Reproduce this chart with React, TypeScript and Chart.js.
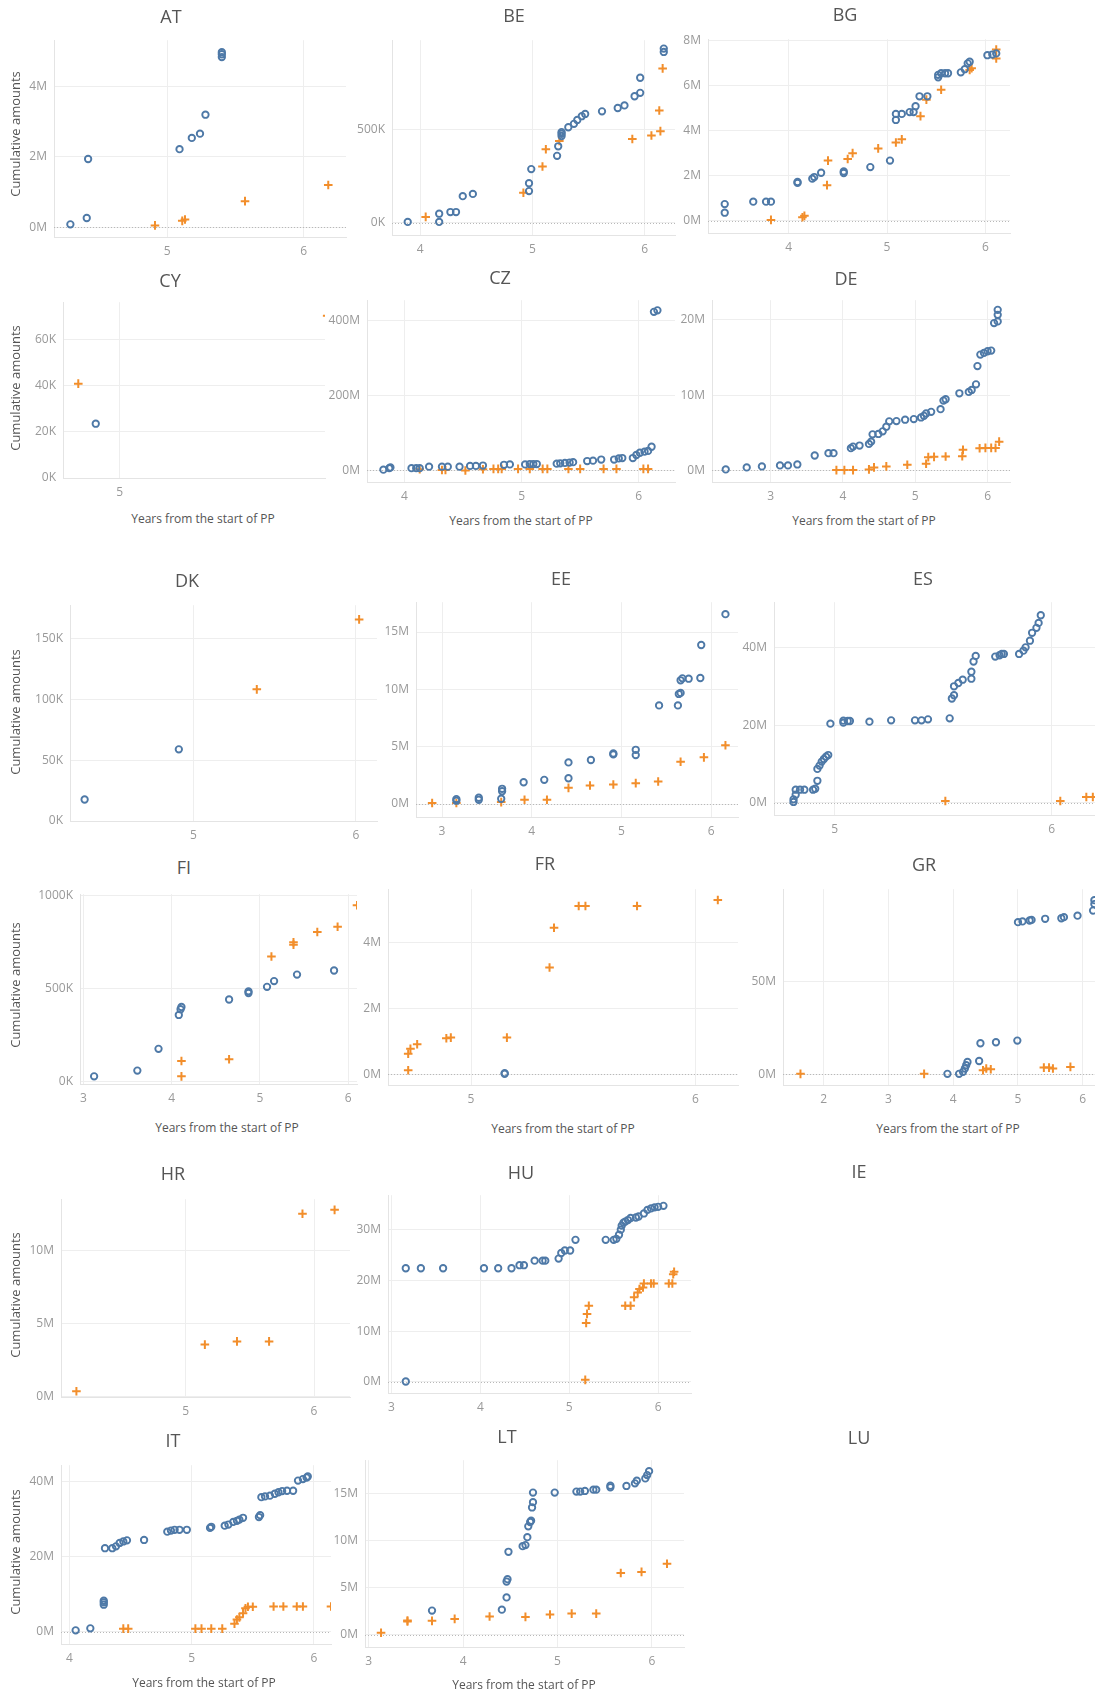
import React, { useEffect, useRef } from "react";
import { Chart, registerables } from "chart.js";
Chart.register(...registerables);

type P = [number, number][];

// ---------- DATA (x = years from start of PP, y = cumulative amount in the panel's unit) ----------
const AT_circles: P = [[4.29,0.08],[4.41,0.26],[4.42,1.94],[5.09,2.22],[5.18,2.54],[5.24,2.66],[5.28,3.2],[5.40,4.84],[5.40,4.92],[5.40,4.98]];
const AT_crosses: P = [[4.91,0.05],[5.11,0.18],[5.13,0.22],[5.57,0.74],[6.18,1.2]];
const AT_xTicks = [5, 6];
const AT_yTicks = [0, 2, 4];

const BE_circles: P = [[3.89,5],[4.17,49],[4.17,5],[4.27,58],[4.32,58],[4.38,143],[4.47,155],[4.97,170],[4.97,212],[4.99,288],[5.22,359],[5.23,410],[5.26,465],[5.26,477],[5.26,486],[5.32,512],[5.37,530],[5.40,551],[5.44,571],[5.47,583],[5.62,597],[5.76,615],[5.82,629],[5.91,678],[5.96,696],[5.96,777],[6.17,915],[6.17,933]];
const BE_crosses: P = [[4.05,32],[4.92,161],[5.09,302],[5.12,394],[5.24,438],[5.89,449],[6.06,468],[6.14,491],[6.13,602],[6.16,827]];
const BE_xTicks = [4, 5, 6];
const BE_yTicks = [0, 500];

const BG_circles: P = [[3.35,0.74],[3.35,0.36],[3.64,0.85],[3.77,0.85],[3.82,0.85],[4.09,1.72],[4.09,1.68],[4.24,1.87],[4.26,1.94],[4.33,2.13],[4.56,2.12],[4.56,2.19],[4.83,2.38],[5.03,2.67],[5.09,4.47],[5.09,4.74],[5.15,4.74],[5.23,4.82],[5.27,4.82],[5.29,5.08],[5.33,5.52],[5.41,5.52],[5.52,6.36],[5.52,6.47],[5.55,6.54],[5.59,6.54],[5.62,6.54],[5.75,6.58],[5.79,6.72],[5.82,6.98],[5.84,7.05],[6.02,7.34],[6.07,7.37],[6.11,7.42]];
const BG_crosses: P = [[3.82,0.04],[4.14,0.16],[4.16,0.22],[4.39,1.58],[4.40,2.67],[4.60,2.74],[4.65,3.0],[4.91,3.21],[5.09,3.47],[5.15,3.61],[5.34,4.64],[5.40,5.37],[5.55,5.81],[5.84,6.69],[5.86,6.76],[6.11,7.59],[6.11,7.2]];
const BG_xTicks = [4, 5, 6];
const BG_yTicks = [0, 2, 4, 6, 8];

const CY_circles: P = [[4.89,23.6]];
const CY_crosses: P = [[4.81,41],[5.95,70.5]];
const CY_xTicks = [5];
const CY_yTicks = [0, 20, 40, 60];

const CZ_circles: P = [[3.82,2],[3.87,6],[3.88,8],[4.06,6],[4.10,6],[4.13,6],[4.21,10],[4.32,10],[4.37,10],[4.47,10],[4.56,12],[4.61,12],[4.67,13],[4.85,15],[4.90,16],[5.03,16],[5.07,17],[5.10,17],[5.13,17],[5.30,18],[5.33,19],[5.37,20],[5.41,21],[5.44,22],[5.56,25],[5.61,26],[5.68,29],[5.79,29],[5.83,32],[5.86,33],[5.95,33],[5.98,41],[6.01,47],[6.05,50],[6.08,52],[6.11,63],[6.13,422],[6.16,426]];
const CZ_crosses: P = [[4.13,3],[4.32,1],[4.35,1],[4.52,0],[4.67,3],[4.76,4],[4.80,4],[4.83,4],[4.97,4],[5.07,4],[5.18,4],[5.22,4],[5.40,4],[5.50,4],[5.70,4],[5.81,4],[6.04,4],[6.08,4]];
const CZ_xTicks = [4, 5, 6];
const CZ_yTicks = [0, 200, 400];

const DE_circles: P = [[2.38,0.13],[2.67,0.4],[2.88,0.53],[3.13,0.66],[3.24,0.66],[3.37,0.79],[3.61,1.98],[3.80,2.29],[3.87,2.29],[4.11,2.95],[4.14,3.16],[4.23,3.30],[4.36,3.52],[4.39,3.82],[4.41,4.79],[4.49,4.84],[4.55,5.19],[4.60,5.80],[4.64,6.51],[4.74,6.55],[4.86,6.73],[4.98,6.81],[5.08,7.03],[5.12,7.25],[5.15,7.56],[5.22,7.78],[5.35,8.13],[5.39,9.27],[5.42,9.45],[5.61,10.24],[5.74,10.42],[5.78,10.68],[5.84,11.43],[5.86,13.85],[5.90,15.38],[5.95,15.60],[6.00,15.82],[6.05,15.91],[6.09,19.56],[6.14,19.78],[6.14,20.66],[6.14,21.32]];
const DE_crosses: P = [[3.91,0.04],[4.02,0.04],[4.14,0.04],[4.36,0.13],[4.43,0.4],[4.60,0.53],[4.89,0.75],[5.15,0.88],[5.18,1.76],[5.26,1.80],[5.42,1.85],[5.65,1.89],[5.66,2.73],[5.89,2.95],[5.97,2.99],[6.05,2.99],[6.11,2.99],[6.16,3.82]];
const DE_xTicks = [3, 4, 5, 6];
const DE_yTicks = [0, 10, 20];

const DK_circles: P = [[4.33,17.7],[4.91,59]];
const DK_crosses: P = [[5.39,108.4],[6.02,166]];
const DK_xTicks = [5, 6];
const DK_yTicks = [0, 50, 100, 150];

const EE_circles: P = [[3.16,0.29],[3.16,0.43],[3.41,0.37],[3.41,0.55],[3.66,0.46],[3.67,1.12],[3.67,1.33],[3.91,1.90],[4.14,2.11],[4.41,2.25],[4.41,3.63],[4.66,3.84],[4.91,4.33],[4.91,4.41],[5.16,4.27],[5.16,4.73],[5.42,8.60],[5.63,8.60],[5.64,9.60],[5.66,9.69],[5.66,10.79],[5.68,10.96],[5.75,10.93],[5.88,10.99],[5.89,13.87],[6.16,16.56]];
const EE_crosses: P = [[2.89,0.09],[3.16,0.09],[3.66,0.17],[3.92,0.37],[4.17,0.37],[4.41,1.41],[4.65,1.62],[4.91,1.70],[5.16,1.82],[5.41,1.96],[5.66,3.69],[5.92,4.07],[6.16,5.13]];
const EE_xTicks = [3, 4, 5, 6];
const EE_yTicks = [0, 5, 10, 15];

const ES_circles: P = [[4.81,0.25],[4.81,0.93],[4.82,2.12],[4.82,3.40],[4.84,3.40],[4.86,3.40],[4.90,3.40],[4.91,3.65],[4.92,5.69],[4.92,8.75],[4.93,9.60],[4.94,10.62],[4.95,11.30],[4.96,11.89],[4.97,12.31],[4.98,20.38],[5.04,20.64],[5.04,21.15],[5.06,21.06],[5.07,21.06],[5.16,20.89],[5.26,21.23],[5.37,21.23],[5.40,21.23],[5.43,21.49],[5.53,21.74],[5.54,26.84],[5.55,27.69],[5.55,29.98],[5.57,30.83],[5.59,31.68],[5.63,31.93],[5.63,33.72],[5.64,36.35],[5.65,37.79],[5.74,37.62],[5.76,37.96],[5.77,38.30],[5.78,38.30],[5.85,38.30],[5.87,39.15],[5.88,40.00],[5.90,41.70],[5.91,43.74],[5.93,45.01],[5.94,46.28],[5.95,48.24]];
const ES_crosses: P = [[5.51,0.51],[6.04,0.51],[6.16,1.53],[6.19,1.53]];
const ES_xTicks = [5, 6];
const ES_yTicks = [0, 20, 40];

const FI_circles: P = [[3.12,26],[3.61,57],[3.85,174],[4.08,356],[4.10,387],[4.11,399],[4.65,439],[4.87,474],[4.87,483],[5.08,507],[5.16,538],[5.42,573],[5.84,595]];
const FI_crosses: P = [[4.11,109],[4.11,26],[4.65,118],[5.13,670],[5.38,734],[5.38,747],[5.65,802],[5.88,830],[6.10,946]];
const FI_xTicks = [3, 4, 5, 6];
const FI_yTicks = [0, 500, 1000];

const FR_circles: P = [[5.15,0.02],[5.15,0.04]];
const FR_crosses: P = [[4.72,0.13],[4.72,0.63],[4.73,0.78],[4.76,0.92],[4.89,1.10],[4.91,1.12],[5.16,1.12],[5.35,3.25],[5.37,4.46],[5.48,5.12],[5.51,5.12],[5.74,5.12],[6.10,5.30]];
const FR_xTicks = [5, 6];
const FR_yTicks = [0, 2, 4];

const GR_circles: P = [[3.91,0.35],[4.09,0.35],[4.15,1.41],[4.18,3.18],[4.20,4.95],[4.22,6.71],[4.40,7.24],[4.42,16.78],[4.66,17.31],[4.99,18.2],[5.00,81.8],[5.07,82.2],[5.18,82.7],[5.21,83.0],[5.42,83.6],[5.67,83.9],[5.71,84.5],[5.92,85.3],[6.16,88.0],[6.18,91.5],[6.18,93.6]];
const GR_crosses: P = [[1.64,0.35],[3.55,0.35],[4.46,2.3],[4.51,3.2],[4.58,2.8],[5.40,3.7],[5.48,3.7],[5.54,3.2],[5.81,4.06]];
const GR_xTicks = [2, 3, 4, 5, 6];
const GR_yTicks = [0, 50];

const HR_circles: P = [];
const HR_crosses: P = [[4.15,0.34],[5.15,3.54],[5.40,3.76],[5.65,3.76],[5.91,12.5],[6.16,12.77]];
const HR_xTicks = [5, 6];
const HR_yTicks = [0, 5, 10];

const HU_circles: P = [[3.16,0.07],[3.16,22.4],[3.33,22.4],[3.58,22.4],[4.04,22.4],[4.20,22.4],[4.35,22.4],[4.44,23.0],[4.49,23.0],[4.61,23.9],[4.70,23.9],[4.73,23.9],[4.88,24.3],[4.91,25.4],[4.95,25.9],[5.01,25.9],[5.07,28.0],[5.41,28.0],[5.50,28.0],[5.53,28.2],[5.56,29.0],[5.58,30.0],[5.59,30.8],[5.61,31.4],[5.63,31.6],[5.66,31.9],[5.69,32.3],[5.75,32.4],[5.78,32.6],[5.84,33.2],[5.88,33.9],[5.92,34.2],[5.96,34.4],[6.00,34.5],[6.06,34.7]];
const HU_crosses: P = [[5.18,0.39],[5.19,11.6],[5.20,13.4],[5.22,15.0],[5.63,15.0],[5.69,15.0],[5.73,16.7],[5.77,17.6],[5.79,18.3],[5.83,18.6],[5.84,19.4],[5.92,19.4],[5.95,19.4],[6.12,19.4],[6.16,19.4],[6.17,21.2],[6.18,21.7]];
const HU_xTicks = [3, 4, 5, 6];
const HU_yTicks = [0, 10, 20, 30];

const IT_circles: P = [[4.05,0.44],[4.17,0.96],[4.28,7.26],[4.28,7.88],[4.28,8.31],[4.29,22.3],[4.35,22.3],[4.38,22.8],[4.41,23.7],[4.44,24.1],[4.47,24.4],[4.61,24.5],[4.80,26.7],[4.83,27.0],[4.86,27.2],[4.90,27.2],[4.96,27.2],[5.15,27.7],[5.16,28.0],[5.27,28.3],[5.30,28.6],[5.34,29.3],[5.37,29.6],[5.39,29.9],[5.42,30.4],[5.55,30.6],[5.56,31.1],[5.57,35.9],[5.60,36.1],[5.64,36.3],[5.68,36.8],[5.71,37.2],[5.74,37.5],[5.78,37.6],[5.83,37.6],[5.87,40.3],[5.91,40.7],[5.94,41.1],[5.95,41.4]];
const IT_crosses: P = [[4.44,0.88],[4.48,0.88],[5.03,0.88],[5.08,0.88],[5.16,0.88],[5.25,0.88],[5.35,2.2],[5.37,3.3],[5.39,3.9],[5.42,5.0],[5.44,6.3],[5.46,6.7],[5.50,6.7],[5.67,6.8],[5.75,6.8],[5.86,6.8],[5.91,6.8],[6.14,6.8]];
const IT_xTicks = [4, 5, 6];
const IT_yTicks = [0, 20, 40];

const LT_circles: P = [[3.67,2.56],[4.41,2.66],[4.46,3.96],[4.46,5.64],[4.47,5.89],[4.48,8.79],[4.63,9.39],[4.66,9.50],[4.68,10.34],[4.69,11.49],[4.71,11.95],[4.72,12.09],[4.73,13.49],[4.74,14.05],[4.74,15.07],[4.97,15.07],[5.20,15.17],[5.24,15.17],[5.29,15.24],[5.38,15.38],[5.41,15.38],[5.56,15.63],[5.56,15.80],[5.73,15.77],[5.82,16.05],[5.84,16.33],[5.93,16.57],[5.95,16.92],[5.97,17.34]];
const LT_crosses: P = [[3.13,0.21],[3.41,1.40],[3.41,1.51],[3.67,1.47],[3.91,1.68],[4.28,1.93],[4.66,1.89],[4.92,2.14],[5.15,2.24],[5.41,2.24],[5.67,6.55],[5.89,6.66],[6.16,7.53]];
const LT_xTicks = [3, 4, 5, 6];
const LT_yTicks = [0, 5, 10, 15];

// ---------- LAYOUT ----------
const FONT = "'Open Sans', 'DejaVu Sans', sans-serif";
const BLUE = "#4e79a7";
const ORANGE = "#f28e2b";
const YW = 46; // y-axis width
const PT = 12; // top padding
const PR = 14; // right padding
const XH = 28; // x-axis height

type Panel = {
  name: string; tx: number; ty: number;
  L?: number; R?: number; T?: number; B?: number;
  xMin?: number; xMax?: number; yMin?: number; yMax?: number;
  unit?: string; circles?: P; crosses?: P; xTicks?: number[]; yTicks?: number[];
  yLabel?: [number, number]; xTitle?: [number, number];
};

const PANELS: Panel[] = [
  { name: "AT", tx: 171, ty: 16, L: 54, R: 346, T: 38, B: 237, xMin: 4.17, xMax: 6.31, yMin: -0.28, yMax: 5.32, unit: "M", circles: AT_circles, crosses: AT_crosses, xTicks: AT_xTicks, yTicks: AT_yTicks, yLabel: [15, 134] },
  { name: "BE", tx: 514, ty: 15, L: 392, R: 675, T: 38, B: 235, xMin: 3.75, xMax: 6.27, yMin: -65, yMax: 978, unit: "K", circles: BE_circles, crosses: BE_crosses, xTicks: BE_xTicks, yTicks: BE_yTicks },
  { name: "BG", tx: 845, ty: 14, L: 708, R: 1010, T: 37, B: 233, xMin: 3.18, xMax: 6.25, yMin: -0.54, yMax: 8.05, unit: "M", circles: BG_circles, crosses: BG_crosses, xTicks: BG_xTicks, yTicks: BG_yTicks },

  { name: "CY", tx: 170, ty: 280, L: 63, R: 325, T: 300, B: 478, xMin: 4.74, xMax: 5.94, yMin: 0, yMax: 76.4, unit: "K", circles: CY_circles, crosses: CY_crosses, xTicks: CY_xTicks, yTicks: CY_yTicks, yLabel: [15, 388], xTitle: [203, 519] },
  { name: "CZ", tx: 500, ty: 277, L: 367, R: 675, T: 298, B: 482, xMin: 3.68, xMax: 6.31, yMin: -30.8, yMax: 453, unit: "M", circles: CZ_circles, crosses: CZ_crosses, xTicks: CZ_xTicks, yTicks: CZ_yTicks, xTitle: [521, 521] },
  { name: "DE", tx: 846, ty: 278, L: 712, R: 1010, T: 298, B: 482, xMin: 2.19, xMax: 6.31, yMin: -1.54, yMax: 22.6, unit: "M", circles: DE_circles, crosses: DE_crosses, xTicks: DE_xTicks, yTicks: DE_yTicks, xTitle: [864, 521] },

  { name: "DK", tx: 187, ty: 580, L: 70, R: 377, T: 603, B: 821, xMin: 4.24, xMax: 6.13, yMin: 0, yMax: 177.7, unit: "K", circles: DK_circles, crosses: DK_crosses, xTicks: DK_xTicks, yTicks: DK_yTicks, yLabel: [15, 712] },
  { name: "EE", tx: 561, ty: 578, L: 416, R: 738, T: 600, B: 817, xMin: 2.71, xMax: 6.30, yMin: -1.13, yMax: 17.6, unit: "M", circles: EE_circles, crosses: EE_crosses, xTicks: EE_xTicks, yTicks: EE_yTicks },
  { name: "ES", tx: 923, ty: 578, L: 774, R: 1095, T: 600, B: 815, xMin: 4.72, xMax: 6.20, yMin: -3.1, yMax: 51.6, unit: "M", circles: ES_circles, crosses: ES_crosses, xTicks: ES_xTicks, yTicks: ES_yTicks },

  { name: "FI", tx: 184, ty: 867, L: 80, R: 357, T: 892, B: 1084, xMin: 2.96, xMax: 6.10, yMin: -15, yMax: 1005, unit: "K", circles: FI_circles, crosses: FI_crosses, xTicks: FI_xTicks, yTicks: FI_yTicks, yLabel: [15, 985], xTitle: [227, 1128] },
  { name: "FR", tx: 545, ty: 863, L: 388, R: 738, T: 887, B: 1085, xMin: 4.63, xMax: 6.19, yMin: -0.32, yMax: 5.63, unit: "M", circles: FR_circles, crosses: FR_crosses, xTicks: FR_xTicks, yTicks: FR_yTicks, xTitle: [563, 1129] },
  { name: "GR", tx: 924, ty: 864, L: 783, R: 1095, T: 887, B: 1085, xMin: 1.37, xMax: 6.19, yMin: -5.65, yMax: 99.5, unit: "M", circles: GR_circles, crosses: GR_crosses, xTicks: GR_xTicks, yTicks: GR_yTicks, xTitle: [948, 1129] },

  { name: "HR", tx: 173, ty: 1173, L: 61, R: 350, T: 1197, B: 1397, xMin: 4.03, xMax: 6.28, yMin: -0.05, yMax: 13.5, unit: "M", circles: HR_circles, crosses: HR_crosses, xTicks: HR_xTicks, yTicks: HR_yTicks, yLabel: [15, 1295] },
  { name: "HU", tx: 521, ty: 1172, L: 388, R: 691, T: 1193, B: 1393, xMin: 2.96, xMax: 6.37, yMin: -2.2, yMax: 36.8, unit: "M", circles: HU_circles, crosses: HU_crosses, xTicks: HU_xTicks, yTicks: HU_yTicks },
  { name: "IE", tx: 859, ty: 1171 },

  { name: "IT", tx: 173, ty: 1440, L: 61, R: 331, T: 1463, B: 1644, xMin: 3.93, xMax: 6.14, yMin: -3.2, yMax: 44.4, unit: "M", circles: IT_circles, crosses: IT_crosses, xTicks: IT_xTicks, yTicks: IT_yTicks, yLabel: [15, 1552], xTitle: [204, 1683] },
  { name: "LT", tx: 507, ty: 1436, L: 365, R: 684, T: 1458, B: 1647, xMin: 2.96, xMax: 6.34, yMin: -1.3, yMax: 18.5, unit: "M", circles: LT_circles, crosses: LT_crosses, xTicks: LT_xTicks, yTicks: LT_yTicks, xTitle: [524, 1685] },
  { name: "LU", tx: 859, ty: 1437 },
];

const zeroLine = {
  id: "zeroLine",
  beforeDatasetsDraw(chart: any) {
    const y = chart.scales.y.getPixelForValue(0);
    const { left, right, top, bottom } = chart.chartArea;
    if (y < top || y > bottom - 3) return;
    const ctx = chart.ctx;
    ctx.save();
    ctx.strokeStyle = "#b8b8b8";
    ctx.lineWidth = 1;
    ctx.setLineDash([1, 2]);
    ctx.beginPath();
    ctx.moveTo(left, Math.round(y) + 0.5);
    ctx.lineTo(right, Math.round(y) + 0.5);
    ctx.stroke();
    ctx.restore();
  },
};

function PanelChart({ p }: { p: Panel }) {
  const ref = useRef<HTMLCanvasElement>(null);
  const W = YW + (p.R! - p.L!) + PR;
  const H = PT + (p.B! - p.T!) + XH;
  useEffect(() => {
    const chart = new Chart(ref.current!, {
      type: "scatter",
      data: {
        datasets: [
          {
            data: p.circles!.map(([x, y]) => ({ x, y })),
            pointStyle: "circle",
            pointRadius: 3.2,
            borderWidth: 1.9,
            borderColor: BLUE,
            backgroundColor: "rgba(255,255,255,0)",
          },
          {
            data: p.crosses!.map(([x, y]) => ({ x, y })),
            pointStyle: "cross",
            pointRadius: 4.3,
            borderWidth: 2,
            borderColor: ORANGE,
            backgroundColor: ORANGE,
          },
        ],
      } as any,
      options: {
        animation: false,
        responsive: false,
        maintainAspectRatio: false,
        events: [],
        layout: { padding: { top: PT, right: PR, left: 0, bottom: 0 } },
        plugins: { legend: { display: false }, tooltip: { enabled: false } },
        scales: {
          x: {
            type: "linear",
            min: p.xMin,
            max: p.xMax,
            afterBuildTicks: (s: any) => { s.ticks = p.xTicks!.map((v) => ({ value: v })); },
            afterFit: (s: any) => { s.height = XH; },
            ticks: { color: "#999999", font: { family: FONT, size: 12 }, padding: 7, callback: (v: any) => String(v) },
            grid: { color: "#eeeeee", drawTicks: false },
            border: { display: true, color: "#e4e4e4" },
          },
          y: {
            type: "linear",
            min: p.yMin,
            max: p.yMax,
            afterBuildTicks: (s: any) => { s.ticks = p.yTicks!.map((v) => ({ value: v })); },
            afterFit: (s: any) => { s.width = YW; },
            ticks: { color: "#999999", font: { family: FONT, size: 12 }, padding: 7, callback: (v: any) => `${v}${p.unit}` },
            grid: { color: "#eeeeee", drawTicks: false },
            border: { display: true, color: "#e4e4e4" },
          },
        },
      } as any,
      plugins: [zeroLine],
    });
    return () => chart.destroy();
  }, []);
  return (
    <canvas
      ref={ref}
      width={W}
      height={H}
      style={{ position: "absolute", left: p.L! - YW, top: p.T! - PT, width: W, height: H }}
    />
  );
}

export default function App() {
  return (
    <div style={{ position: "absolute", left: 0, top: 0, width: 1095, height: 1692, overflow: "hidden", background: "#fff", fontFamily: FONT }}>
      {PANELS.filter((p) => p.L !== undefined).map((p) => <PanelChart key={p.name} p={p} />)}
      {PANELS.map((p) => (
        <div key={"t" + p.name} style={{ position: "absolute", left: p.tx - 50, top: p.ty - 13, width: 100, textAlign: "center", fontSize: 18, lineHeight: "26px", color: "#555" }}>
          {p.name}
        </div>
      ))}
      {PANELS.filter((p) => p.xTitle).map((p) => (
        <div key={"x" + p.name} style={{ position: "absolute", left: p.xTitle![0] - 120, top: p.xTitle![1] - 9, width: 240, textAlign: "center", fontSize: 12, lineHeight: "18px", color: "#555" }}>
          Years from the start of PP
        </div>
      ))}
      {PANELS.filter((p) => p.yLabel).map((p) => (
        <div key={"y" + p.name} style={{ position: "absolute", left: p.yLabel![0] - 80, top: p.yLabel![1] - 9, width: 160, textAlign: "center", fontSize: 13, lineHeight: "18px", color: "#555", transform: "rotate(-90deg)" }}>
          Cumulative amounts
        </div>
      ))}
    </div>
  );
}
